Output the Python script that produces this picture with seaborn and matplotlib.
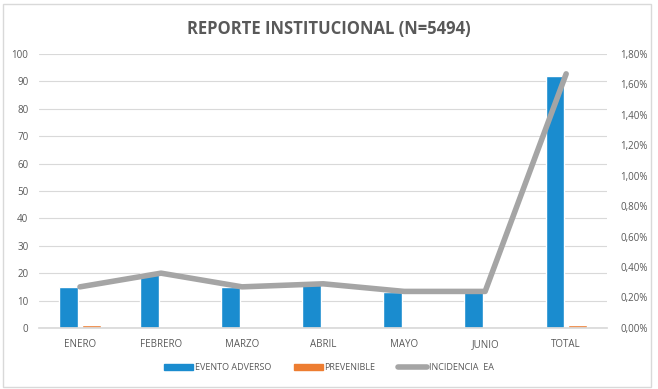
import numpy as np
import pandas as pd
import seaborn as sns
import matplotlib.pyplot as plt
from matplotlib.ticker import FuncFormatter
from matplotlib.patches import Rectangle, Patch
from matplotlib.lines import Line2D

meses = ["ENERO", "FEBRERO", "MARZO", "ABRIL", "MAYO", "JUNIO", "TOTAL"]
evento_adverso = [15, 20, 15, 16, 13, 13, 92]
prevenible = [1, 0, 0, 0, 0, 0, 1]
incidencia_ea = [0.27, 0.36, 0.27, 0.29, 0.24, 0.24, 1.67]  # porcentaje

azul = "#1A8CCF"
naranja = "#ED7D31"
gris = "#A5A5A5"
texto = "#595959"

df = pd.DataFrame({
    "mes": meses * 2,
    "valor": evento_adverso + prevenible,
    "serie": ["EVENTO ADVERSO"] * len(meses) + ["PREVENIBLE"] * len(meses),
})

sns.set_theme(style="white")
plt.rcParams["font.family"] = ["Open Sans", "DejaVu Sans"]

fig = plt.figure(figsize=(6.58, 3.89), dpi=100)
ax = fig.add_axes([0.06, 0.157, 0.862, 0.704])

sns.barplot(data=df, x="mes", y="valor", hue="serie", order=meses,
            palette=[azul, naranja], width=0.56, gap=0.18, ax=ax,
            legend=False, saturation=1)
ax.set_ylim(0, 100)
ax.set_yticks(range(0, 101, 10))
ax.set_xlim(-0.5, 6.5)
ax.set(xlabel="", ylabel="")
ax.yaxis.grid(True, color="#D9D9D9", linewidth=0.8)
ax.set_axisbelow(True)
for s in ["top", "right", "left"]:
    ax.spines[s].set_visible(False)
ax.spines["bottom"].set_color("#D9D9D9")
ax.tick_params(axis="both", labelsize=7, colors=texto, length=0, pad=8)

ax2 = ax.twinx()
sns.lineplot(x=np.arange(len(meses)), y=incidencia_ea, ax=ax2, color=gris,
             linewidth=4)
ax2.set_ylim(0, 1.8)
ax2.set_yticks(np.arange(0, 1.81, 0.2))
ax2.yaxis.set_major_formatter(
    FuncFormatter(lambda v, p: f"{v:.2f}%".replace(".", ",")))
for s in ax2.spines.values():
    s.set_visible(False)
ax2.tick_params(axis="y", labelsize=7, colors=texto, length=0, pad=10)
ax2.set_xlim(-0.5, 6.5)

fig.text(0.5, 0.925, "REPORTE INSTITUCIONAL (N=5494)", ha="center",
         va="center", fontsize=12, fontweight="bold", color=texto)

handles = [
    Patch(color=azul, label="EVENTO ADVERSO"),
    Patch(color=naranja, label="PREVENIBLE"),
    Line2D([], [], color=gris, linewidth=4, label="INCIDENCIA  EA"),
]
fig.legend(handles=handles, loc="center", bbox_to_anchor=(0.5, 0.055),
           ncol=3, frameon=False, fontsize=6.5, labelcolor=texto,
           handlelength=3.2, handleheight=0.6, columnspacing=2.5,
           handletextpad=0.2)

fig.patches.append(Rectangle((0.005, 0.005), 0.985, 0.985,
                             transform=fig.transFigure, fill=False,
                             edgecolor="#D9D9D9", linewidth=1))

fig.savefig("out.png", dpi=100)
